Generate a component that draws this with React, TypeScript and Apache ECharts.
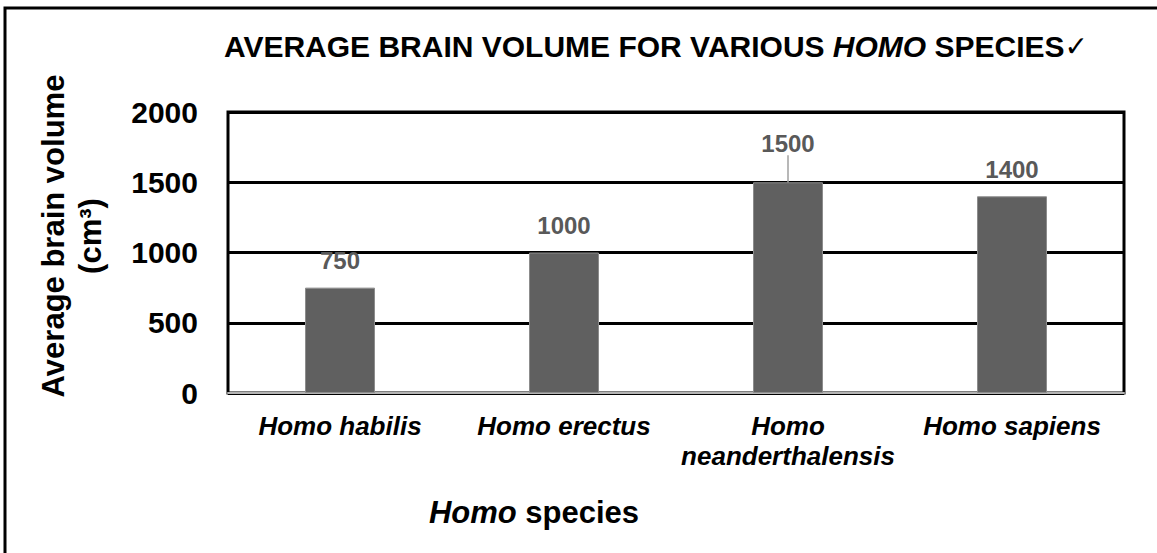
import React, { useEffect, useRef } from "react";
import * as echarts from "echarts";

const categories = ["Homo habilis", "Homo erectus", "Homo neanderthalensis", "Homo sapiens"];
const brainVolumes = [750, 1000, 1500, 1400];
const yMin = 0;
const yMax = 2000;
const yInterval = 500;
const raisedLabelIndex = 2;

const FONT = "'Liberation Sans', Arial, Helvetica, sans-serif";

export default function App() {
  const ref = useRef<HTMLDivElement>(null);

  useEffect(() => {
    if (!ref.current) return;
    const chart = echarts.init(ref.current, undefined, { renderer: "svg" });

    const seriesData = brainVolumes.map((v, i) =>
      i === raisedLabelIndex
        ? {
            value: v,
            labelLine: { show: true, lineStyle: { color: "#a0a0a0", width: 1.5 } },
          }
        : v
    );

    chart.setOption({
      animation: false,
      backgroundColor: "#ffffff",
      grid: {
        left: 228,
        right: 33,
        top: 112,
        bottom: 160,
        show: true,
        borderColor: "#000000",
        borderWidth: 3,
        backgroundColor: "transparent",
      },
      xAxis: {
        type: "category",
        data: categories,
        offset: 3,
        axisTick: { show: false },
        axisLine: { show: true, lineStyle: { color: "#b4b4b4", width: 2 } },
        axisLabel: {
          interval: 0,
          margin: 15,
          fontFamily: FONT,
          fontSize: 26,
          fontWeight: "bold",
          fontStyle: "italic",
          color: "#000000",
          lineHeight: 30,
          formatter: (v: string) => (v.length > 14 ? v.replace(" ", "\n") : v),
        },
        splitLine: { show: false },
      },
      yAxis: {
        type: "value",
        min: yMin,
        max: yMax,
        interval: yInterval,
        axisLine: { show: false },
        axisTick: { show: false },
        axisLabel: {
          margin: 30,
          fontFamily: FONT,
          fontSize: 30,
          fontWeight: "bold",
          color: "#000000",
          formatter: (v: number) => String(v),
        },
        splitLine: { show: true, lineStyle: { color: "#000000", width: 3 } },
      },
      series: [
        {
          type: "bar",
          data: seriesData,
          barWidth: 70,
          itemStyle: { color: "#606060", borderColor: "#8c8c8c", borderWidth: 1 },
          label: {
            show: true,
            position: "top",
            distance: 15,
            fontFamily: FONT,
            fontSize: 24,
            fontWeight: "bold",
            color: "#595959",
          },
          labelLayout: (p: any) => (p.dataIndex === raisedLabelIndex ? { dy: -12 } : {}),
        },
      ],
      graphic: [
        {
          type: "rect",
          shape: { x: 5, y: 8, width: 1200, height: 600 },
          style: { fill: "none", stroke: "#000000", lineWidth: 3 },
          silent: true,
        },
        {
          type: "text",
          x: 656,
          y: 46,
          style: {
            text: "{b|AVERAGE BRAIN VOLUME FOR VARIOUS }{bi|HOMO}{b| SPECIES}{c|✓}",
            align: "center",
            verticalAlign: "middle",
            rich: {
              b: { fontFamily: FONT, fontSize: 30, fontWeight: "bold", fill: "#000" },
              bi: { fontFamily: FONT, fontSize: 30, fontWeight: "bold", fontStyle: "italic", fill: "#000" },
              c: { fontFamily: "'DejaVu Sans', sans-serif", fontSize: 28, fontWeight: "normal", fill: "#000" },
            },
          },
        },
        {
          type: "text",
          x: 534,
          y: 512,
          style: {
            text: "{bi|Homo}{b| species}",
            align: "center",
            verticalAlign: "middle",
            rich: {
              b: { fontFamily: FONT, fontSize: 31, fontWeight: "bold", fill: "#000" },
              bi: { fontFamily: FONT, fontSize: 31, fontWeight: "bold", fontStyle: "italic", fill: "#000" },
            },
          },
        },
        {
          type: "text",
          x: 72,
          y: 236,
          rotation: Math.PI / 2,
          style: {
            text: "Average brain volume\n(cm³)",
            align: "center",
            verticalAlign: "middle",
            fontFamily: FONT,
            fontSize: 31,
            fontWeight: "bold",
            lineHeight: 37,
            fill: "#000",
          },
        },
      ],
    });

    return () => chart.dispose();
  }, []);

  return (
    <div
      ref={ref}
      style={{ position: "fixed", left: 0, top: 0, width: 1157, height: 553, background: "#fff" }}
    />
  );
}
